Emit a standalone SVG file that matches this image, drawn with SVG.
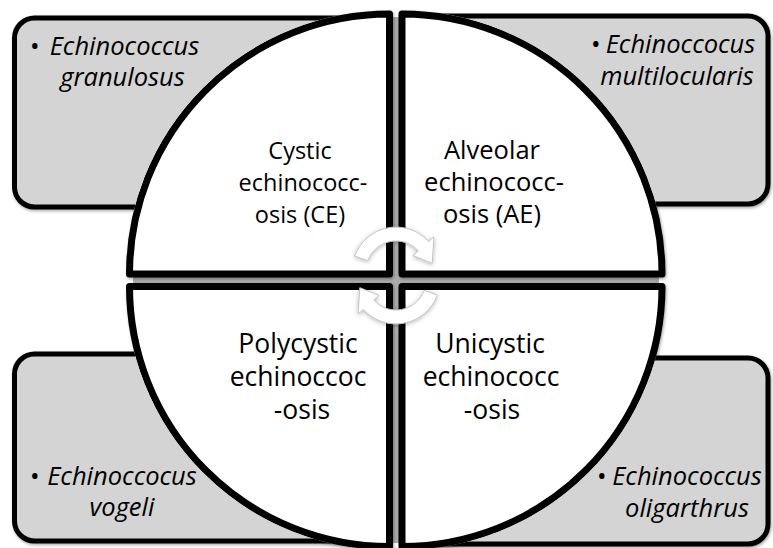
<svg xmlns="http://www.w3.org/2000/svg" width="773" height="548" viewBox="0 0 773 548">
<style>
.box{fill:#d4d4d4;stroke:#000;stroke-width:5;}
.quad{fill:#fff;stroke:#000;stroke-width:7;stroke-linejoin:round;}
.qt{font-family:"Open Sans","Liberation Sans",sans-serif;font-size:25.5px;fill:#000;text-anchor:middle;}
.bt{font-family:"Open Sans","Liberation Sans",sans-serif;font-size:25.5px;font-style:italic;fill:#000;text-anchor:middle;}
.bul{font-family:"Open Sans","Liberation Sans",sans-serif;font-size:25.5px;fill:#000;}
.arr{fill:#fff;stroke:#c4c4c4;stroke-width:1;}
</style>
<defs>
<filter id="sh" x="-10%" y="-10%" width="120%" height="120%">
<feDropShadow dx="1" dy="1.5" stdDeviation="1.5" flood-color="#000" flood-opacity="0.35"/>
</filter>
<filter id="ash" x="-30%" y="-30%" width="160%" height="160%">
<feDropShadow dx="0" dy="1" stdDeviation="2" flood-color="#000" flood-opacity="0.3"/>
</filter>
<clipPath id="cc"><circle cx="396" cy="280" r="263"/></clipPath>
<mask id="m" maskUnits="userSpaceOnUse" x="0" y="0" width="773" height="548">
<rect width="773" height="548" fill="#fff"/>
<g fill="#000" stroke="#000" stroke-width="7" stroke-linejoin="round">
<path d="M389.5 274 L129.5 274 A260 260 0 0 1 389.5 14 Z"/>
<path d="M402 274 L402 14 A260 260 0 0 1 662 274 Z"/>
<path d="M389.5 286.5 L389.5 546.5 A260 260 0 0 1 129.5 286.5 Z"/>
<path d="M402 286.5 L662 286.5 A260 260 0 0 1 402 546.5 Z"/>
<rect x="385" y="10" width="22" height="540"/>
<rect x="125" y="270" width="542" height="21"/>
</g>
</mask>
</defs>
<rect width="773" height="548" fill="#fff"/>

<g id="gap" clip-path="url(#cc)">
<rect x="392" y="10" width="7" height="540" fill="#ababab"/>
<rect x="120" y="277" width="550" height="7" fill="#ababab"/>
</g>

<g id="quad-tl">
<path class="quad" filter="url(#sh)" d="M389.5 274 L129.5 274 A260 260 0 0 1 389.5 14 Z"/>
<text class="qt" style="font-size:23.5px" x="300" y="159">Cystic</text>
<text class="qt" style="font-size:23.5px" x="303" y="191">echinococc-</text>
<text class="qt" style="font-size:23.5px" x="300" y="223">osis (CE)</text>
</g>
<g id="quad-tr">
<path class="quad" filter="url(#sh)" d="M402 274 L402 14 A260 260 0 0 1 662 274 Z"/>
<text class="qt" x="492" y="159">Alveolar</text>
<text class="qt" x="494" y="191">echinococc-</text>
<text class="qt" x="492" y="223">osis (AE)</text>
</g>
<g id="quad-bl">
<path class="quad" filter="url(#sh)" d="M389.5 286.5 L389.5 546.5 A260 260 0 0 1 129.5 286.5 Z"/>
<text class="qt" style="font-size:26.5px" x="298" y="353">Polycystic</text>
<text class="qt" style="font-size:26.5px" x="298" y="386">echinoccoc</text>
<text class="qt" style="font-size:26.5px" x="302" y="419">-osis</text>
</g>
<g id="quad-br">
<path class="quad" filter="url(#sh)" d="M402 286.5 L662 286.5 A260 260 0 0 1 402 546.5 Z"/>
<text class="qt" style="font-size:26.5px" x="490" y="353">Unicystic</text>
<text class="qt" style="font-size:26.5px" x="491" y="386">echinococc</text>
<text class="qt" style="font-size:26.5px" x="492" y="419">-osis</text>
</g>

<g id="box-tl">
<rect class="box" x="14.5" y="18" width="370" height="189" rx="20" filter="url(#sh)" mask="url(#m)"/>
<text class="bul" x="30" y="55">•</text>
<text class="bt" x="124.5" y="55">Echinococcus</text>
<text class="bt" x="122.5" y="86">granulosus</text>
</g>
<g id="box-tr">
<rect class="box" x="408" y="16" width="360" height="188" rx="20" filter="url(#sh)" mask="url(#m)"/>
<text class="bul" x="591" y="53">•</text>
<text class="bt" x="680.5" y="53">Echinoccocus</text>
<text class="bt" x="677" y="85">multilocularis</text>
</g>
<g id="box-bl">
<rect class="box" x="14.5" y="354" width="370" height="187" rx="20" filter="url(#sh)" mask="url(#m)"/>
<text class="bul" x="30" y="485">•</text>
<text class="bt" x="122" y="485">Echinoccocus</text>
<text class="bt" x="122" y="516">vogeli</text>
</g>
<g id="box-br">
<rect class="box" x="408" y="358" width="360" height="186" rx="20" filter="url(#sh)" mask="url(#m)"/>
<text class="bul" x="597" y="485">•</text>
<text class="bt" x="687" y="485">Echinococcus</text>
<text class="bt" x="687" y="517">oligarthrus</text>
</g>

<g id="connectors" filter="url(#ash)">
<path class="arr" d="M354.7 256 A44 44 0 0 1 428.7 241.6 L433.9 236.9 L432.2 263.3 L413.1 255.6 L418.3 250.9 A30 30 0 0 0 367.8 260.7 Z"/>
<path class="arr" d="M437.3 295 A44 44 0 0 1 363.3 309.4 L358.1 314.1 L359.8 287.7 L378.9 295.4 L373.7 300.1 A30 30 0 0 0 424.2 290.3 Z"/>
</g>
</svg>
